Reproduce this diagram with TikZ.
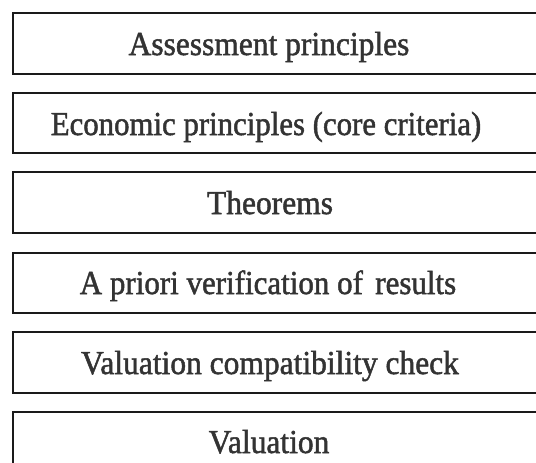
\documentclass[tikz,border=0pt]{standalone}
\usepackage{fontspec}
\setmainfont{Liberation Serif}
\newfontfamily\lblfont{Liberation Serif}[FakeBold=1.5]
\definecolor{txt}{HTML}{333333}
\definecolor{edge}{HTML}{1A1A1A}
\newcommand{\lt}[2][0.94]{\scalebox{#1}[1]{#2}}
\tikzset{
  layer/.style={draw=edge, line width=2.2pt, fill=white},
  lbl/.style={text=txt, font=\lblfont\fontsize{33.5}{36}\selectfont, anchor=base, inner sep=0pt}
}
\begin{document}
\begin{tikzpicture}[x=1pt,y=-1pt]
\useasboundingbox (0,0) rectangle (536,463);
\begin{scope}
\clip (0,0) rectangle (536,463);
\draw[layer] (13,13) rectangle (560,74);
\draw[layer] (13,93) rectangle (560,153);
\draw[layer] (13,172) rectangle (560,233);
\draw[layer] (13,253) rectangle (560,313);
\draw[layer] (13,332) rectangle (560,393);
\draw[layer] (13,412) rectangle (560,490);
\end{scope}
\node[lbl] (t1) at (269,55) {\lt{Assessment principles}};
\node[lbl] (t2) at (266,135) {\lt[0.92]{Economic principles (core criteria)}};
\node[lbl] (t3) at (270,214) {\lt{Theorems}};
\node[lbl] (t4) at (268,294) {\lt[0.925]{A priori verification of\hspace{5pt} results}};
\node[lbl] (t5) at (270,374) {\lt{Valuation compatibility check}};
\node[lbl] (t6) at (269,453) {\lt{Valuation}};
\end{tikzpicture}
\end{document}
